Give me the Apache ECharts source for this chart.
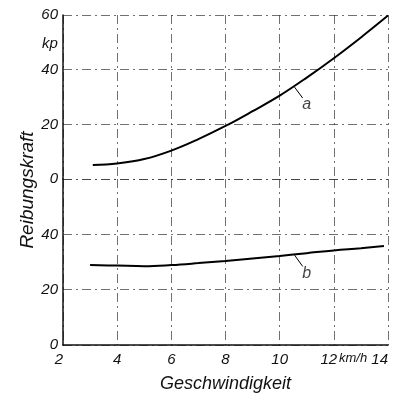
<!DOCTYPE html>
<html>
<head>
<meta charset="utf-8">
<script src="https://cdn.jsdelivr.net/npm/echarts@6/dist/echarts.min.js"></script>
<style>
  html, body { margin: 0; padding: 0; background: #fff; }
  #chart { width: 405px; height: 395px; }
</style>
</head>
<body>
<div id="chart"></div>
<script>
// Reibungskraft ueber Geschwindigkeit, Kurven a (oben) und b (unten)
var xTicks = [2, 4, 6, 8, 10, 12, 14];
var upperTicks = [0, 20, 40, 60];
var lowerTicks = [0, 20, 40];

var speedA = [3.1, 4, 5, 6, 7, 8, 9, 10, 11, 12, 13, 14];
var forceA = [5.1, 5.7, 7.3, 10.4, 14.6, 19.4, 24.8, 30.5, 37.1, 44.2, 51.8, 59.8];

var speedB = [3.0, 4, 5, 6, 7, 8, 9, 10, 11, 12, 13, 13.85];
var forceB = [28.9, 28.7, 28.5, 28.9, 29.6, 30.4, 31.3, 32.2, 33.2, 34.2, 35.0, 35.8];

// Beschriftung a / b mit kurzer Hinweislinie
var tagA = { name: 'a', from: [10.55, 33.6], to: [10.85, 29.6], at: [11.0, 27.3] };
var tagB = { name: 'b', from: [10.55, 32.5], to: [10.85, 28.4], at: [11.0, 26.0] };

function pairs(xs, ys) {
  var out = [];
  for (var i = 0; i < xs.length; i++) out.push([xs[i], ys[i]]);
  return out;
}

var font = 'Liberation Sans';
var gridLine = { show: true, lineStyle: { color: '#333', width: 1, type: [9, 4, 2, 4], opacity: 0.7 } };
var labelStyle = { fontFamily: font, fontStyle: 'italic', fontSize: 15, color: '#111' };

var myChart = echarts.init(document.getElementById('chart'));
var option = {
  animation: false,
  backgroundColor: '#fff',
  grid: [
    { left: 63, right: 17, top: 15, height: 164 },
    { left: 63, right: 17, top: 179, height: 166 }
  ],
  xAxis: [
    { gridIndex: 0, type: 'value', min: 2, max: 14, interval: 2,
      axisLine: { show: false }, axisTick: { show: false }, axisLabel: { show: false },
      splitLine: gridLine },
    { gridIndex: 1, type: 'value', min: 2, max: 14, interval: 2,
      axisLine: { show: true, lineStyle: { color: '#111', width: 1.5 } },
      axisTick: { show: false },
      axisLabel: Object.assign({ margin: 7, showMinLabel: true, showMaxLabel: true,
        alignMinLabel: 'right', alignMaxLabel: 'right',
        formatter: function (v) { return v === 12 ? '{s|12}' : String(v); },
        rich: { s: { fontFamily: font, fontStyle: 'italic', fontSize: 15, color: '#111', padding: [0, 10, 0, 0] } }
      }, labelStyle),
      splitLine: gridLine,
      name: 'Geschwindigkeit', nameLocation: 'middle', nameGap: 30,
      nameTextStyle: { fontFamily: font, fontStyle: 'italic', fontSize: 18, color: '#111' } }
  ],
  yAxis: [
    { gridIndex: 0, type: 'value', min: 0, max: 60, interval: 20,
      axisLine: { show: true, lineStyle: { color: '#111', width: 1.5 } },
      axisTick: { show: false },
      axisLabel: Object.assign({ margin: 5, formatter: function (v) { return v === 0 ? '' : v; } }, labelStyle),
      splitLine: gridLine },
    { gridIndex: 1, type: 'value', min: 0, max: 60, interval: 20,
      axisLine: { show: true, lineStyle: { color: '#111', width: 1.5 } },
      axisTick: { show: false },
      axisLabel: Object.assign({ margin: 5, formatter: function (v) { return v === 60 ? '0' : v; } }, labelStyle),
      splitLine: gridLine }
  ],
  graphic: [
    { type: 'text', left: 42, top: 36, style: { text: 'kp', font: 'italic 15px ' + font, fill: '#111' } },
    { type: 'text', left: 339, top: 352, style: { text: 'km/h', font: 'italic 13px ' + font, fill: '#111' } },
    { type: 'text', x: 28, y: 190, rotation: Math.PI / 2,
      style: { text: 'Reibungskraft', font: 'italic 19px ' + font, fill: '#111', align: 'center', verticalAlign: 'middle' } }
  ],
  series: [
    { type: 'line', xAxisIndex: 0, yAxisIndex: 0, data: pairs(speedA, forceA), smooth: 0.4,
      symbol: 'none', lineStyle: { color: '#000', width: 2 } },
    { type: 'line', xAxisIndex: 1, yAxisIndex: 1, data: pairs(speedB, forceB), smooth: 0.4,
      symbol: 'none', lineStyle: { color: '#000', width: 2 } },
    { type: 'line', xAxisIndex: 0, yAxisIndex: 0, data: [tagA.from, tagA.to],
      symbol: 'none', lineStyle: { color: '#000', width: 1 } },
    { type: 'line', xAxisIndex: 1, yAxisIndex: 1, data: [tagB.from, tagB.to],
      symbol: 'none', lineStyle: { color: '#000', width: 1 } },
    { type: 'scatter', xAxisIndex: 0, yAxisIndex: 0, symbolSize: 0, data: [tagA.at],
      label: { show: true, position: 'inside', formatter: tagA.name, fontFamily: font, fontStyle: 'italic', fontSize: 16, color: '#111' } },
    { type: 'scatter', xAxisIndex: 1, yAxisIndex: 1, symbolSize: 0, data: [tagB.at],
      label: { show: true, position: 'inside', formatter: tagB.name, fontFamily: font, fontStyle: 'italic', fontSize: 16, color: '#111' } }
  ]
};
myChart.setOption(option);
</script>
</body>
</html>
